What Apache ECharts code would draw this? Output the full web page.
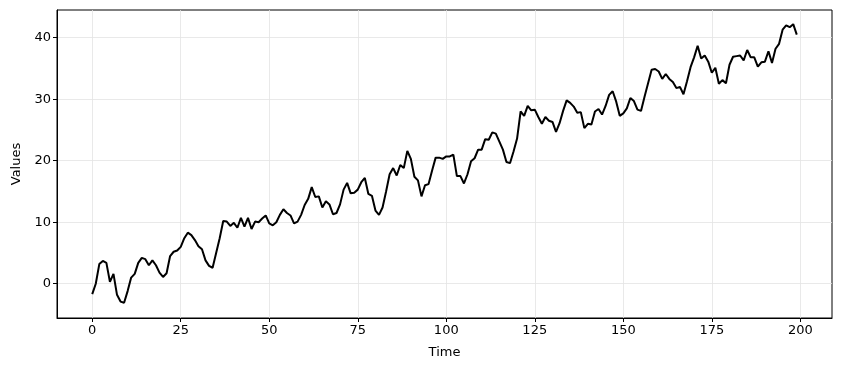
<!DOCTYPE html>
<html><head><meta charset="utf-8">
<script src="https://cdn.jsdelivr.net/npm/echarts@6/dist/echarts.min.js"></script>
<style>html,body{margin:0;padding:0;background:#fff}#c{width:841px;height:371px}</style>
</head><body><div id="c"></div>
<script>
const values = [
-1.7,0.0,3.2,3.7,3.4,0.3,1.6,-1.8,-2.9,-3.1,
-1.2,1.0,1.6,3.4,4.2,4.0,3.0,3.8,3.0,1.8,
1.1,1.7,4.5,5.2,5.4,6.0,7.4,8.3,7.9,7.1,
6.1,5.6,3.8,2.9,2.6,5.0,7.4,10.2,10.1,9.4,
9.9,9.1,10.7,9.3,10.7,8.9,10.1,10.0,10.6,11.1,
9.8,9.5,10.0,11.2,12.1,11.5,11.1,9.8,10.1,11.2,
12.8,13.8,15.7,14.1,14.2,12.4,13.4,12.9,11.3,11.5,
12.9,15.3,16.4,14.7,14.8,15.3,16.5,17.2,14.6,14.3,
11.9,11.2,12.4,15.0,17.8,18.8,17.6,19.3,18.8,21.6,
20.3,17.4,16.8,14.2,16.0,16.2,18.4,20.5,20.5,20.3,
20.7,20.7,21.0,17.5,17.5,16.3,17.8,19.9,20.4,21.8,
21.8,23.5,23.4,24.6,24.4,23.1,21.8,19.8,19.6,21.5,
23.6,28.0,27.3,28.9,28.2,28.3,27.1,26.0,27.1,26.5,
26.3,24.7,26.1,28.1,29.8,29.4,28.8,27.8,27.9,25.3,
26.0,25.9,28.0,28.4,27.5,28.9,30.7,31.3,29.6,27.3,
27.7,28.5,30.2,29.7,28.3,28.1,30.4,32.6,34.8,34.9,
34.5,33.3,34.1,33.3,32.8,31.8,32.0,30.8,32.9,35.2,
36.8,38.7,36.6,37.1,36.1,34.3,35.1,32.5,33.1,32.6,
35.6,36.9,37.0,37.1,36.3,38.0,36.8,36.8,35.3,36.0,
36.1,37.8,35.9,38.2,39.0,41.3,42.0,41.7,42.2,40.5
];
const xTicks = [0,25,50,75,100,125,150,175,200];
const yTicks = [0,10,20,30,40];

const data = values.map((v,i)=>[i,v]);
const font = 'DejaVu Sans';
const chart = echarts.init(document.getElementById('c'), null, {renderer:'canvas'});
const gridLines = xTicks.map(t=>({xAxis:t})).concat(yTicks.map(t=>({yAxis:t})));
chart.setOption({
  animation:false,
  backgroundColor:'#fff',
  grid:{left:57,right:9,top:10,bottom:53,show:true,borderColor:'#000',borderWidth:1,backgroundColor:'transparent'},
  xAxis:{type:'value',min:-9.95,max:208.95,
    name:'Time',nameLocation:'middle',nameGap:28,
    nameTextStyle:{fontFamily:font,fontSize:13,color:'#000'},
    axisLine:{show:true,onZero:false,lineStyle:{color:'#000',width:1}},
    axisTick:{show:true,customValues:xTicks,length:4,inside:false,lineStyle:{color:'#000'}},
    axisLabel:{customValues:xTicks,fontFamily:font,fontSize:13,color:'#000',margin:6},
    splitLine:{show:false}},
  yAxis:{type:'value',min:-5.57,max:44.5,
    name:'Values',nameLocation:'middle',nameGap:34,nameRotate:90,
    nameTextStyle:{fontFamily:font,fontSize:13,color:'#000'},
    axisLine:{show:true,onZero:false,lineStyle:{color:'#000',width:1}},
    axisTick:{show:true,customValues:yTicks,length:4,inside:false,lineStyle:{color:'#000'}},
    axisLabel:{customValues:yTicks,fontFamily:font,fontSize:13,color:'#000',margin:6},
    splitLine:{show:false}},
  series:[{type:'line',data:data,showSymbol:false,
    lineStyle:{color:'#000',width:2},
    itemStyle:{color:'#000'},
    markLine:{silent:true,symbol:['none','none'],label:{show:false},
      lineStyle:{color:'#e3e3e3',type:'solid',width:0.8},
      data:gridLines,z:0},
    z:3}]
});
</script></body></html>
